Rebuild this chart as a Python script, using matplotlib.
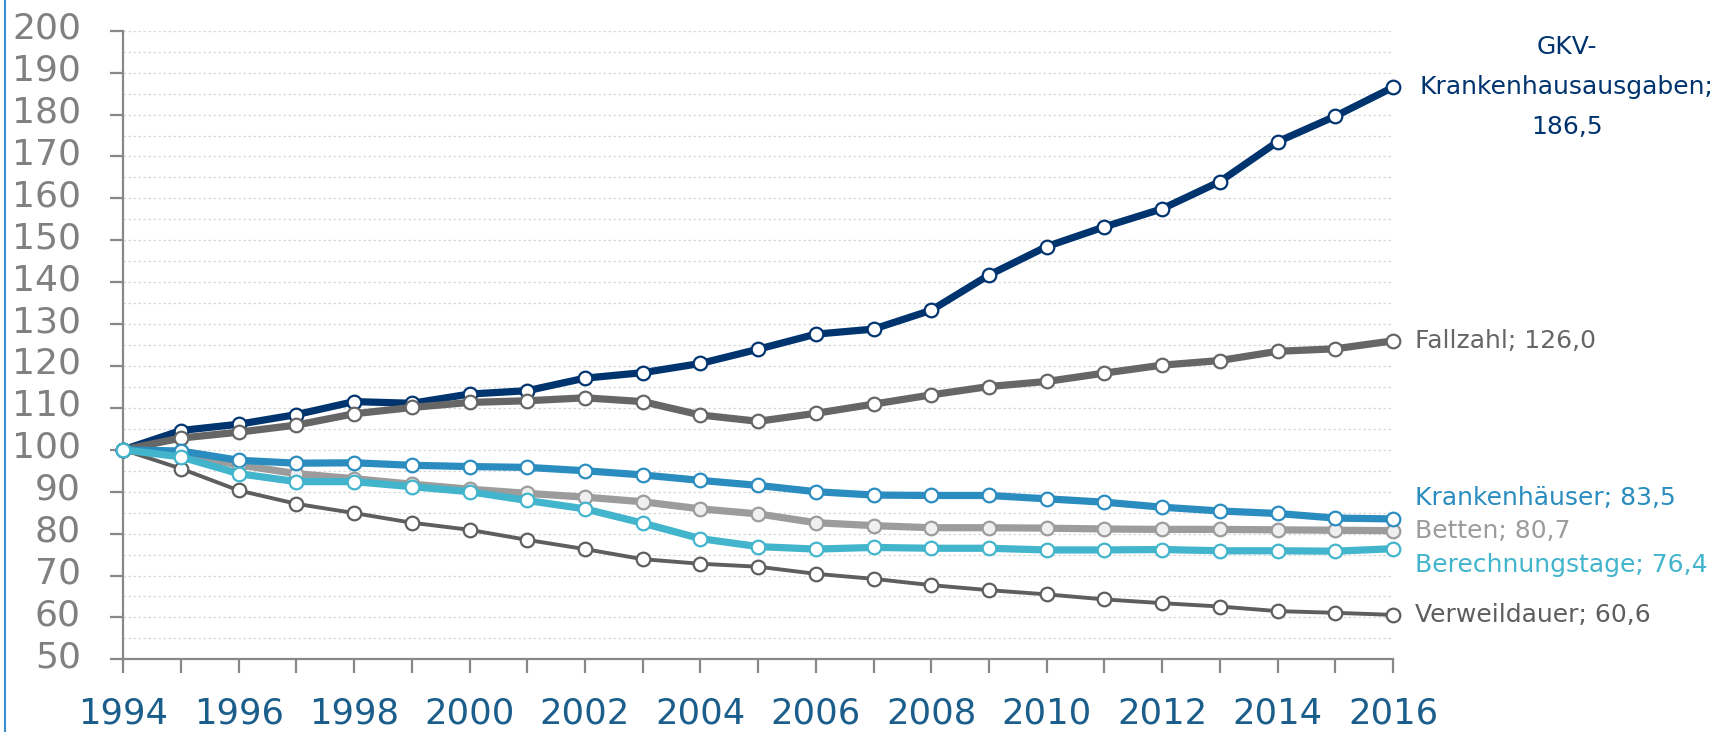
import matplotlib.pyplot as plt
from matplotlib.lines import Line2D
from matplotlib.transforms import ScaledTranslation

# Index 1994 = 100
years = list(range(1994, 2017))
gkv = [100, 104.6, 106.1, 108.4, 111.5, 111.1, 113.3, 114.1, 117.1, 118.4, 120.6, 124.0,
       127.6, 128.8, 133.3, 141.7, 148.5, 153.2, 157.5, 164.0, 173.5, 179.6, 186.5]
fallzahl = [100, 102.8, 104.2, 105.9, 108.6, 110.1, 111.3, 111.7, 112.4, 111.5, 108.3, 106.8,
            108.7, 110.9, 113.1, 115.1, 116.3, 118.3, 120.2, 121.3, 123.5, 124.1, 126.0]
krankenhaeuser = [100, 99.7, 97.5, 96.8, 96.9, 96.3, 96.0, 95.8, 95.0, 94.0, 92.7, 91.5,
                  90.0, 89.2, 89.1, 89.1, 88.3, 87.5, 86.3, 85.4, 84.8, 83.7, 83.5]
betten = [100, 98.8, 96.4, 94.3, 93.1, 91.8, 90.6, 89.6, 88.7, 87.6, 85.9, 84.7,
          82.6, 81.9, 81.4, 81.4, 81.3, 81.1, 81.0, 81.0, 80.9, 80.8, 80.7]
berechnungstage = [100, 98.3, 94.3, 92.4, 92.4, 91.2, 90.0, 87.9, 85.9, 82.5, 78.8, 76.9,
                   76.3, 76.7, 76.5, 76.5, 76.1, 76.1, 76.2, 75.9, 75.9, 75.8, 76.4]
verweildauer = [100, 95.5, 90.3, 87.1, 84.9, 82.6, 80.9, 78.5, 76.3, 73.9, 72.8, 72.1,
                70.4, 69.2, 67.7, 66.5, 65.5, 64.3, 63.4, 62.6, 61.5, 61.1, 60.6]

# name, values, line colour, line width, marker face, label offset (pt)
series = [
    ("GKV-\nKrankenhausausgaben", gkv, "#00346f", 5.2, "white", None),
    ("Fallzahl", fallzahl, "#666666", 5.2, "white", 0),
    ("Verweildauer", verweildauer, "#5e5e5e", 2.8, "white", 0),
    ("Betten", betten, "#9c9c9c", 5.2, "#efefef", 0),
    ("Krankenhäuser", krankenhaeuser, "#2a8cbf", 5.2, "white", 15),
    ("Berechnungstage", berechnungstage, "#42b4cc", 5.2, "white", -12),
]

fig = plt.figure(figsize=(17.36, 7.32), dpi=100)
ax = fig.add_axes([0.0710, 0.0993, 0.7314, 0.8587])

for name, vals, col, lw, face, dy in series:
    ax.plot(years, vals, color=col, lw=lw, marker="o", ms=9.8,
            mfc=face, mec=col, mew=1.6, clip_on=False, zorder=3,
            solid_joinstyle="round")
    val = f"{vals[-1]:.1f}".replace(".", ",")
    if dy is None:
        ax.annotate(f"{name};\n{val}", xy=(years[-1], vals[-1]), xytext=(125, 0),
                    textcoords="offset points", ha="center", va="center",
                    fontsize=18, color=col, linespacing=1.85)
    else:
        ax.annotate(f"{name}; {val}", xy=(years[-1], vals[-1]), xytext=(16, dy),
                    textcoords="offset points", ha="left", va="center",
                    fontsize=18, color=col)

ax.set_xlim(1994, 2016)
ax.set_ylim(50, 200)
ax.set_yticks(range(50, 201, 10))
ax.set_xticks(years)
ax.set_xticklabels([str(y) if y % 2 == 0 else "" for y in years])

for y in range(55, 201, 5):
    ax.axhline(y, color="#d8d8d8", lw=0.9, ls=(0, (2, 2)), zorder=1)

for side in ("top", "right"):
    ax.spines[side].set_visible(False)
for side in ("left", "bottom"):
    ax.spines[side].set_color("#888888")
    ax.spines[side].set_linewidth(1.6)

ax.tick_params(axis="y", length=9.5, width=1.6, color="#888888", pad=21,
               labelsize=26, labelcolor="#808080")
ax.tick_params(axis="x", length=10, width=1.6, color="#888888", pad=17,
               labelsize=25.5, labelcolor="#1b5e8b")
for lab in ax.get_yticklabels():
    lab.set_transform(lab.get_transform() + ScaledTranslation(0, 4 / 72, fig.dpi_scale_trans))

# thin blue rule at the left edge
fig.add_artist(Line2D([0.003, 0.003], [0, 1], transform=fig.transFigure,
                      color="#3a8fd0", lw=1.5))

fig.savefig("out.png", dpi=100)
